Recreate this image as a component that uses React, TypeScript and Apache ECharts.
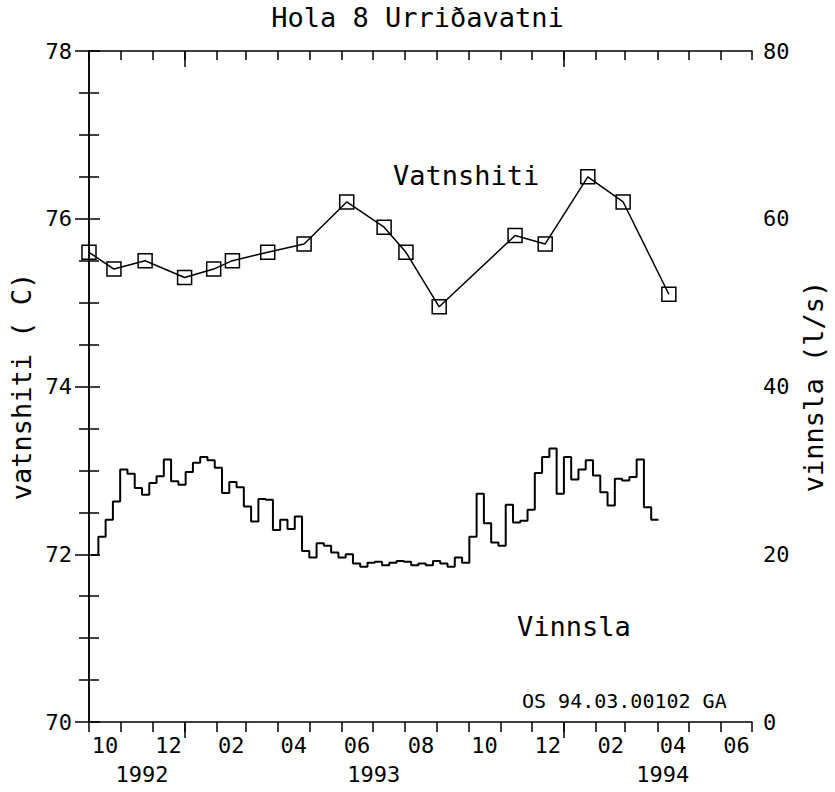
import React, { useEffect, useRef } from 'react';
import * as echarts from 'echarts';

const FONT = "'DejaVu Sans Mono', 'Liberation Mono', monospace";

// ---- texts ----
const titleText = 'Hola 8 Urriðavatni';
const leftAxisName = 'vatnshiti ( C)';
const rightAxisName = 'vinnsla (l/s)';
const tempLabel = 'Vatnshiti';
const flowLabel = 'Vinnsla';
const refLabel = 'OS 94.03.00102 GA';

// ---- x axis ----
const axisStart = '1992-10-01';
const axisEnd = '1994-07-01';
const monthTickLabels = ['10', '12', '02', '04', '06', '08', '10', '12', '02', '04', '06'];
const monthLabelMonths = ['1992-10', '1992-12', '1993-02', '1993-04', '1993-06', '1993-08', '1993-10', '1993-12', '1994-02', '1994-04', '1994-06'];
const yearLabels = ['1992', '1993', '1994'];
const yearLabelDates = ['1992-11-21', '1993-07-02', '1994-04-06'];

// ---- y axes ----
const leftMin = 70, leftMax = 78, leftInterval = 2;
const rightMin = 0, rightMax = 80, rightInterval = 20;

// ---- temperature (vatnshiti, C) ----
const tempDates = ['1992-10-01', '1992-10-25', '1992-11-24', '1993-01-01', '1993-01-29', '1993-02-16', '1993-03-22', '1993-04-26', '1993-06-06', '1993-07-12', '1993-08-02', '1993-09-03', '1993-11-15', '1993-12-14', '1994-01-24', '1994-02-27', '1994-04-12'];
const tempValues = [75.6, 75.4, 75.5, 75.3, 75.4, 75.5, 75.6, 75.7, 76.2, 75.9, 75.6, 74.95, 75.8, 75.7, 76.5, 76.2, 75.1];

// ---- weekly production (vinnsla, l/s) ----
const flowStart = '1992-10-03';
const flowStepDays = 7;
const flowValues = [
  19.9, 22.1, 24.1, 26.3, 30.1, 29.6, 27.9, 27.1, 28.5, 29.3,
  31.3, 28.7, 28.3, 29.8, 30.9, 31.6, 31.2, 30.3, 27.3, 28.6,
  28.0, 25.7, 23.9, 26.6, 26.5, 22.9, 24.1, 23.0, 24.5, 20.4,
  19.6, 21.3, 21.0, 20.2, 19.6, 20.0, 18.9, 18.5, 19.0, 19.1,
  18.7, 19.0, 19.2, 19.1, 18.7, 18.9, 18.7, 19.2, 18.9, 18.5,
  19.6, 19.0, 22.1, 27.2, 23.7, 21.4, 21.0, 25.9, 23.8, 24.0,
  25.3, 29.7, 31.6, 32.6, 27.2, 31.6, 28.9, 30.1, 31.2, 29.4,
  27.4, 25.8, 29.0, 28.8, 29.2, 31.3, 25.6, 24.1,
];

function parseUTC(s: string): number {
  const p = s.split('-').map(Number);
  return Date.UTC(p[0], (p[1] || 1) - 1, p[2] || 1);
}
const T0 = parseUTC(axisStart);
function day(s: string): number {
  return (parseUTC(s) - T0) / 86400000;
}
function monthStart(y: number, m: number): number {
  return (Date.UTC(y, m, 1) - T0) / 86400000;
}

export default function App() {
  const ref = useRef<HTMLDivElement>(null);

  useEffect(() => {
    if (!ref.current) return;
    const chart = echarts.init(ref.current, undefined, { renderer: 'svg' });

    const xMax = day(axisEnd);
    const s0 = new Date(T0);
    const monthTicks: number[] = [];
    const janTicks: number[] = [];
    for (let k = 0; ; k++) {
      const v = monthStart(s0.getUTCFullYear(), s0.getUTCMonth() + k);
      if (v > xMax) break;
      monthTicks.push(v);
      if (new Date(T0 + v * 86400000).getUTCMonth() === 0) janTicks.push(v);
    }
    const labelMap = new Map<number, string>();
    const monthLabelPos = monthLabelMonths.map((m, i) => {
      const [y, mo] = m.split('-').map(Number);
      const c = (monthStart(y, mo - 1) + monthStart(y, mo)) / 2;
      labelMap.set(Math.round(c * 10), monthTickLabels[i]);
      return c;
    });
    const yearMap = new Map<number, string>();
    const yearPos = yearLabelDates.map((d, i) => {
      const v = day(d);
      yearMap.set(Math.round(v * 10), yearLabels[i]);
      return v;
    });

    const black = { color: '#000', width: 1.5 };
    const labelStyle = { color: '#000', fontSize: 22, fontFamily: FONT };

    const tempData = tempDates.map((d, i) => [day(d), tempValues[i]]);
    const fs = day(flowStart);
    const flowData = flowValues.map((v, i) => [fs + i * flowStepDays, v]);
    flowData.push([fs + flowValues.length * flowStepDays, flowValues[flowValues.length - 1]]);

    const option: any = {
      animation: false,
      backgroundColor: '#fff',
      grid: { left: 89, right: 83, top: 51, bottom: 70, outerBoundsMode: 'none', containLabel: false },
      xAxis: [
        {
          type: 'value', min: 0, max: xMax, position: 'bottom',
          axisLine: { show: true, lineStyle: black },
          axisTick: { show: true, inside: false, length: 10, customValues: monthTicks, lineStyle: black },
          axisLabel: {
            show: true, customValues: monthLabelPos, margin: 12, ...labelStyle,
            formatter: (v: number) => labelMap.get(Math.round(v * 10)) || '',
          },
          splitLine: { show: false },
        },
        {
          type: 'value', min: 0, max: xMax, position: 'bottom',
          axisLine: { show: false },
          axisTick: { show: true, inside: false, length: 16, customValues: janTicks, lineStyle: black },
          axisLabel: {
            show: true, customValues: yearPos, margin: 41, ...labelStyle,
            formatter: (v: number) => yearMap.get(Math.round(v * 10)) || '',
          },
          splitLine: { show: false },
        },
        {
          type: 'value', min: 0, max: xMax, position: 'top',
          axisLine: { show: true, lineStyle: black },
          axisTick: { show: true, inside: true, length: 9, customValues: monthTicks, lineStyle: black },
          axisLabel: { show: false },
          splitLine: { show: false },
        },
        {
          type: 'value', min: 0, max: xMax, position: 'top',
          axisLine: { show: false },
          axisTick: { show: true, inside: true, length: 16, customValues: janTicks, lineStyle: black },
          axisLabel: { show: false },
          splitLine: { show: false },
        },
      ],
      yAxis: [
        {
          type: 'value', min: leftMin, max: leftMax, interval: leftInterval, position: 'left',
          axisLine: { show: true, lineStyle: black },
          axisTick: { show: true, inside: false, length: 14, lineStyle: black },
          minorTick: { show: true, splitNumber: 4, length: 10, lineStyle: black },
          axisLabel: { margin: 17, ...labelStyle },
          splitLine: { show: false },
          minorSplitLine: { show: false },
          name: leftAxisName, nameLocation: 'middle', nameGap: 47, nameRotate: 90,
          nameTextStyle: { color: '#000', fontSize: 27, fontFamily: FONT },
        },
        {
          type: 'value', min: rightMin, max: rightMax, interval: rightInterval, position: 'right',
          axisLine: { show: true, lineStyle: black },
          axisTick: { show: true, inside: false, length: 11, lineStyle: black },
          minorTick: { show: true, splitNumber: 4, length: 10, lineStyle: black },
          axisLabel: { margin: 11, ...labelStyle },
          splitLine: { show: false },
          minorSplitLine: { show: false },
          name: rightAxisName, nameLocation: 'middle', nameGap: 46, nameRotate: 90,
          nameTextStyle: { color: '#000', fontSize: 27, fontFamily: FONT },
        },
      ],
      series: [
        {
          type: 'line', name: tempLabel, xAxisIndex: 0, yAxisIndex: 0, data: tempData,
          symbol: 'rect', symbolSize: 14, showAllSymbol: true, clip: false, silent: true,
          itemStyle: { color: 'rgba(0,0,0,0)', borderColor: '#000', borderWidth: 1.5 },
          lineStyle: { color: '#000', width: 1.5 },
          z: 3,
        },
        {
          type: 'line', name: flowLabel, xAxisIndex: 0, yAxisIndex: 1, data: flowData,
          step: 'end', symbol: 'none', silent: true,
          lineStyle: { color: '#000', width: 2 },
        },
      ],
      graphic: [
        { type: 'text', left: 'center', top: 4, style: { text: titleText, fill: '#000', fontSize: 27, fontFamily: FONT } },
        { type: 'text', x: 393, y: 175, style: { text: tempLabel, fill: '#000', fontSize: 27, fontFamily: FONT, verticalAlign: 'middle' } },
        { type: 'text', x: 517, y: 626, style: { text: flowLabel, fill: '#000', fontSize: 27, fontFamily: FONT, verticalAlign: 'middle' } },
        { type: 'text', x: 522, y: 701, style: { text: refLabel, fill: '#000', fontSize: 20, fontFamily: FONT, verticalAlign: 'middle' } },
      ],
    };

    chart.setOption(option);
    return () => chart.dispose();
  }, []);

  return (
    <div
      ref={ref}
      style={{ position: 'absolute', left: 0, top: 0, width: 835, height: 792, background: '#fff' }}
    />
  );
}
